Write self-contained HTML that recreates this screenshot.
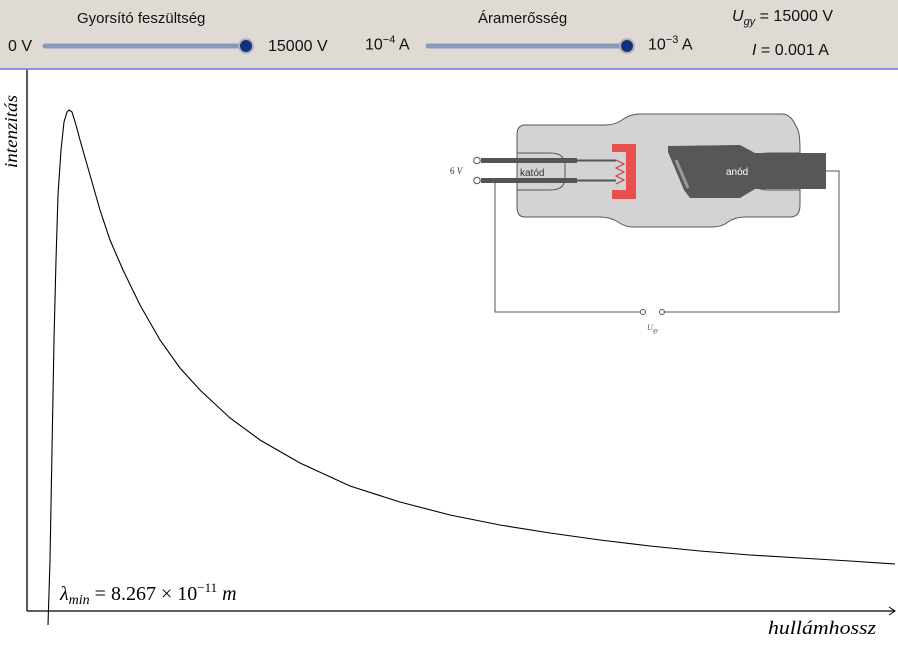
<!DOCTYPE html>
<html><head><meta charset="utf-8"><style>
body{margin:0;width:898px;height:650px;overflow:hidden;background:#fff;font-family:"Liberation Sans",sans-serif;}
.hdr{position:absolute;left:0;top:0;width:898px;height:68px;background:#dfdbd4;border-bottom:2px solid #8a8cf0;}
.t{position:absolute;font-size:16px;color:#111;white-space:nowrap;}
</style></head><body>
<div class="hdr"></div>
<div class="t" style="left:77px;top:10px;font-size:15px">Gyorsító feszültség</div>
<div class="t" style="left:8px;top:38px">0 V</div>
<div class="t" style="left:268px;top:38px">15000 V</div>
<div class="t" style="left:478px;top:10px;font-size:15px">Áramerősség</div>
<div class="t" style="left:365px;top:34px">10<sup style="font-size:11px">−4</sup> A</div>
<div class="t" style="left:648px;top:34px">10<sup style="font-size:11px">−3</sup> A</div>
<div class="t" style="left:732px;top:8px"><i>U</i><sub style="font-size:11px"><i>gy</i></sub> = 15000 V</div>
<div class="t" style="left:752px;top:42px"><i>I</i> = 0.001 A</div>
<svg width="898" height="650" style="position:absolute;left:0;top:0">
<line x1="45" y1="46" x2="246" y2="46" stroke="#8a98b8" stroke-width="5" stroke-linecap="round"/>
<circle cx="246" cy="46" r="8" fill="#a8b4cc"/><circle cx="246" cy="46" r="5.5" fill="#0e2f8e" stroke="#333" stroke-width="1"/>
<line x1="428" y1="46" x2="627" y2="46" stroke="#8a98b8" stroke-width="5" stroke-linecap="round"/>
<circle cx="627" cy="46" r="8" fill="#a8b4cc"/><circle cx="627" cy="46" r="5.5" fill="#0e2f8e" stroke="#333" stroke-width="1"/>
<line x1="27" y1="70" x2="27" y2="611" stroke="#000" stroke-width="1.3"/>
<line x1="27" y1="611" x2="895" y2="611" stroke="#000" stroke-width="1.3"/>
<path d="M889,607 L895,611 L889,615" fill="none" stroke="#000"/>
<polyline fill="none" stroke="#000" stroke-width="1.1" points="48,625 50,560 52,450 54,340 56,260 58,195 61,150 64,122 67,112 69,110 72,112 76,125 80,140 90,175 100,210 110,240 123,270 140,305 160,340 180,368 200,390 230,418 260,440 300,463 350,486 400,502 450,515 500,525 550,533 600,540 650,546 700,551 750,555 800,558 850,561 895,564"/>
<text x="17" y="168" transform="rotate(-90 17 168)" font-family="Liberation Serif" font-style="italic" font-size="18" textLength="73" lengthAdjust="spacingAndGlyphs">intenzitás</text>
<text x="768" y="634" font-family="Liberation Serif" font-style="italic" font-size="19" textLength="108" lengthAdjust="spacingAndGlyphs">hullámhossz</text>
<text x="60" y="600" font-family="Liberation Serif" font-size="20"><tspan font-style="italic">λ</tspan><tspan font-style="italic" font-size="14" dy="4">min</tspan><tspan dy="-4"> = 8.267 × 10</tspan><tspan font-size="13" dy="-8">−11</tspan><tspan dy="8" font-style="italic">  m</tspan></text>
<!-- tube -->
<path d="M525,125 L605,125 Q615,125 622,120 Q630,114 640,114 L782,114 Q790,114 795,124 L798,130 Q800,136 800,150 L800,205 Q800,217 790,217 L745,217 Q735,217 728,222 Q722,227 712,227 L633,227 Q625,227 618,222 Q610,217 600,217 L525,217 Q517,217 517,207 L517,135 Q517,125 525,125 Z" fill="#d3d3d3" stroke="#555" stroke-width="1"/>
<path d="M517,153 L550,153 Q565,153 565,165 L565,178 Q565,190 550,190 L517,190" fill="none" stroke="#555"/>
<path d="M800,153 L770,153 Q755,153 753,160 M753,183 Q755,190 770,190 L800,190" fill="none" stroke="#555"/>
<path d="M668,146 L740,145 L755,153 L826,153 L826,189 L755,189 L740,198 L690,198 L684,190 L668,152 Z" fill="#575757"/>
<line x1="676" y1="160" x2="688" y2="188" stroke="#999" stroke-width="3"/>
<rect x="612" y="144" width="24" height="55" fill="#e85050"/>
<rect x="612" y="152" width="14" height="38" fill="#d3d3d3"/>
<polyline points="616,160 624,164 616,168 624,172 616,176 624,180 616,184" fill="none" stroke="#c33" stroke-width="1"/>
<rect x="481" y="158" width="96" height="5" fill="#555"/><rect x="577" y="159.5" width="39" height="2" fill="#555"/>
<rect x="481" y="178" width="96" height="5" fill="#555"/><rect x="577" y="179.5" width="39" height="2" fill="#555"/>
<circle cx="477" cy="160.5" r="3.2" fill="#fff" stroke="#555"/><circle cx="477" cy="180.5" r="3.2" fill="#fff" stroke="#555"/>
<text x="520" y="176" font-family="Liberation Sans" font-size="10" fill="#333">katód</text>
<text x="726" y="175" font-family="Liberation Sans" font-size="10" fill="#fff">anód</text>
<text x="450" y="174" font-family="Liberation Serif" font-size="9" fill="#333">6 <tspan font-style="italic">V</tspan></text>
<polyline points="495,181 495,312 640,312" fill="none" stroke="#555"/>
<polyline points="665,312 839,312 839,171 826,171" fill="none" stroke="#555"/>
<circle cx="643" cy="312" r="2.5" fill="#fff" stroke="#555"/><circle cx="662" cy="312" r="2.5" fill="#fff" stroke="#555"/>
<text x="647" y="330" font-family="Liberation Serif" font-style="italic" font-size="8" fill="#555">U<tspan font-size="6" dy="2">gy</tspan></text>
</svg>
</body></html>
